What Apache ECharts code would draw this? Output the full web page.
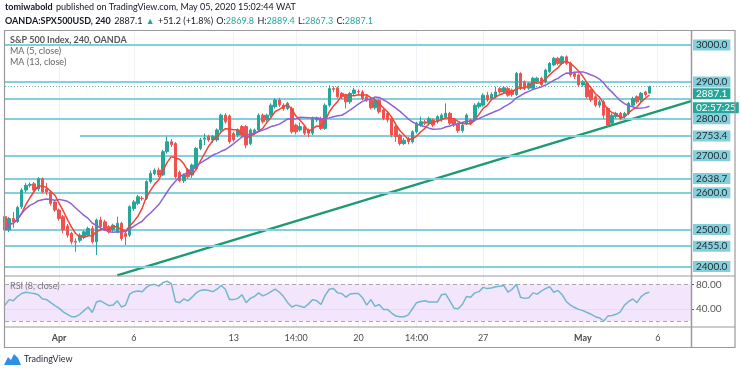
<!DOCTYPE html>
<html><head><meta charset="utf-8">
<script src="https://cdn.jsdelivr.net/npm/echarts@6/dist/echarts.min.js"></script>
<style>html,body{margin:0;padding:0;background:#fff}#c{width:740px;height:373px}</style>
</head><body><div id="c"></div>
<script>
// [open, close, low, high] per 4h bar
const candles = [
[2535,2499,2488,2541],[2499,2530,2493,2534],[2530,2522,2505,2548],[2522,2560,2518,2565],[2562,2607,2556,2612],
[2607,2620,2600,2626],[2620,2622,2614,2628],[2624,2607,2601,2629],[2610,2638,2604,2642],[2638,2602,2598,2641],
[2610,2602,2594,2626],[2602,2571,2565,2606],[2575,2553,2548,2580],[2553,2530,2524,2557],[2535,2499,2490,2540],
[2510,2485,2478,2515],[2490,2467,2460,2494],[2468,2466,2440,2476],[2471,2485,2465,2490],[2480,2494,2474,2498],
[2485,2503,2480,2508],[2503,2467,2462,2510],[2467,2526,2431,2530],[2526,2508,2500,2535],[2521,2503,2497,2527],
[2508,2494,2489,2512],[2499,2512,2494,2516],[2494,2517,2490,2535],[2517,2476,2470,2521],[2490,2481,2458,2494],
[2485,2562,2480,2566],[2557,2575,2551,2580],[2571,2589,2566,2594],[2585,2584,2578,2591],[2584,2630,2580,2634],
[2630,2652,2625,2660],[2652,2661,2647,2666],[2661,2648,2642,2668],[2648,2711,2645,2716],[2711,2738,2706,2752],
[2738,2730,2724,2745],[2733,2643,2638,2737],[2655,2632,2628,2660],[2632,2648,2626,2652],[2662,2643,2638,2667],
[2648,2675,2640,2679],[2666,2720,2660,2724],[2720,2743,2715,2748],[2745,2748,2729,2760],[2752,2743,2738,2757],
[2743,2752,2735,2756],[2743,2770,2738,2774],[2770,2810,2765,2814],[2810,2792,2787,2815],[2808,2738,2733,2812],
[2760,2743,2738,2765],[2756,2770,2750,2774],[2779,2756,2751,2783],[2779,2729,2720,2783],[2733,2770,2729,2774],
[2761,2770,2756,2774],[2770,2810,2765,2815],[2810,2792,2787,2814],[2797,2810,2792,2814],[2810,2837,2805,2842],
[2833,2851,2828,2856],[2851,2838,2832,2857],[2837,2828,2822,2842],[2828,2842,2824,2846],[2828,2765,2760,2833],
[2783,2765,2758,2787],[2770,2779,2765,2790],[2779,2761,2756,2783],[2770,2761,2750,2774],[2761,2801,2756,2806],
[2797,2801,2792,2806],[2801,2774,2770,2806],[2774,2837,2770,2842],[2837,2882,2832,2891],[2882,2880,2872,2888],
[2884,2860,2855,2888],[2869,2860,2853,2873],[2864,2846,2828,2868],[2846,2869,2841,2873],[2869,2878,2864,2884],
[2874,2873,2866,2880],[2873,2855,2850,2878],[2860,2851,2846,2865],[2851,2830,2826,2856],[2830,2850,2825,2855],
[2850,2819,2814,2853],[2824,2801,2796,2828],[2815,2797,2790,2820],[2801,2756,2750,2806],[2779,2752,2738,2783],
[2756,2733,2728,2760],[2733,2742,2729,2748],[2747,2738,2731,2751],[2738,2765,2733,2769],[2765,2788,2760,2792],
[2783,2792,2779,2806],[2792,2788,2783,2797],[2788,2801,2783,2806],[2797,2783,2778,2801],[2792,2806,2787,2810],
[2797,2810,2792,2815],[2806,2815,2801,2842],[2815,2788,2783,2819],[2797,2783,2778,2801],[2785,2768,2762,2790],
[2768,2783,2763,2788],[2788,2810,2783,2815],[2797,2788,2783,2801],[2797,2837,2792,2842],[2833,2842,2828,2847],
[2837,2864,2833,2869],[2864,2851,2846,2873],[2855,2866,2850,2872],[2860,2873,2855,2887],[2882,2873,2868,2886],
[2873,2884,2869,2889],[2882,2864,2860,2887],[2878,2866,2860,2882],[2866,2923,2862,2927],[2923,2883,2878,2926],
[2900,2883,2878,2904],[2883,2896,2878,2900],[2883,2910,2880,2914],[2901,2910,2896,2914],[2910,2893,2889,2914],
[2900,2932,2896,2936],[2928,2950,2924,2954],[2946,2964,2942,2968],[2964,2950,2945,2968],[2950,2968,2946,2971],
[2968,2950,2946,2972],[2950,2919,2914,2955],[2923,2915,2908,2928],[2919,2892,2887,2923],[2892,2900,2887,2905],
[2896,2860,2855,2900],[2878,2851,2846,2882],[2860,2837,2832,2864],[2837,2846,2830,2851],[2846,2810,2800,2851],
[2828,2783,2778,2832],[2788,2810,2783,2815],[2806,2815,2801,2819],[2815,2801,2796,2819],[2806,2815,2801,2819],
[2815,2842,2810,2846],[2837,2855,2832,2860],[2860,2846,2841,2864],[2851,2869,2846,2873],[2873,2866,2860,2876],
[2869.8,2887.1,2867.3,2889.4]
];
const rsi8 = [
46,55,53,60,65,67,66,65,63,56, 55,50,45,41,35,31,27,27,31,37,
43,34,51,53,49,45,46,53,43,46, 64,68,69,68,75,79,80,77,83,85,
81,52,50,56,53,59,66,70,71,70, 68,72,78,72,55,55,57,63,50,57,
60,66,61,64,68,72,67,60,50,43, 46,44,42,48,55,53,47,62,72,73,
66,65,59,64,65,65,58,46,55,44, 47,39,39,33,28,27,27,30,40,50,
52,53,51,51,51,63,64,53,41,40, 47,60,59,66,68,75,73,74,76,77,
78,67,72,80,59,57,58,66,64,69, 73,76,67,70,63,52,46,42,39,37,
34,31,27,25,20,28,29,31,35,46, 52,56,50,60,65,67
];
const slotCount = 166;
const priceLevels = [3000, 2900, 2800, 2700, 2638.7, 2600, 2500, 2455, 2400];
const partialLevel = {fromIdx: 18, value: 2753.4};
const hiddenLevel = 2855;
const lastPrice = 2887.1;
const countdown = '02:57:25';
const trendPts = [[27, 2376], [165, 2848]];
const timeLabels = ['Apr', '6', '13', '14:00', '20', '14:00', '27', 'May', '6'];
const timeLabelIdx = [13, 31, 55, 70, 85, 99, 115, 139, 157];
const rsiTicks = [40, 80];
const rsiBand = [20, 80];

const FONT = 'Lato';
const cats = Array.from({length: slotCount}, (_, i) => String(i));
const closes = candles.map(c => c[1]);
function sma(n) {
  return closes.map((_, i) => {
    const s = Math.max(0, i - n + 1);
    const w = closes.slice(s, i + 1);
    return +(w.reduce((a, b) => a + b, 0) / w.length).toFixed(2);
  });
}
const ma5 = sma(5), ma13 = sma(13);
const labelSet = new Set(timeLabelIdx);
const boldLabels = new Set(['Apr', 'May']);

const levelColor = '#84cfdc';
const boxLabel = (txt, bg, fg, dy) => ({
  show: true, position: 'end', distance: 2, offset: [0, dy || 0], formatter: txt,
  backgroundColor: bg, color: fg, fontSize: 10, fontFamily: FONT, padding: [1, 3, 0, 3], opacity: 1
});
const levelLines = priceLevels.map(v => ({yAxis: v, label: boxLabel(v.toFixed(1), levelColor, '#1e2a30')}));
const last = candles[candles.length - 1];
const f1 = v => v.toFixed(1);

const chart = echarts.init(document.getElementById('c'), null, {renderer: 'canvas'});
chart.setOption({
  animation: false,
  textStyle: {fontFamily: FONT},
  grid: [
    {left: 5, right: 49, top: 30, height: 246},
    {left: 5, right: 49, top: 276, height: 51}
  ],
  xAxis: [0, 1].map(g => ({
    type: 'category', gridIndex: g, data: cats, boundaryGap: false,
    axisLine: {show: false}, axisTick: {show: false},
    axisLabel: g === 1 ? {
      show: true, interval: (i) => labelSet.has(i), margin: 7,
      formatter: (v) => {
        const t = timeLabels[timeLabelIdx.indexOf(+v)];
        return boldLabels.has(t) ? '{b|' + t + '}' : t;
      },
      color: '#4a4a4a', fontSize: 9, fontFamily: FONT,
      rich: {b: {fontWeight: 'bold', color: '#4a4a4a', fontSize: 9, fontFamily: FONT}}
    } : {show: false},
    splitLine: {show: true, interval: (i) => labelSet.has(i), lineStyle: {color: '#ecf2f7', width: 1}}
  })),
  yAxis: [
    {type: 'value', gridIndex: 0, position: 'right', min: 2374.3, max: 3040.65,
     axisLine: {show: false}, axisTick: {show: false}, axisLabel: {show: false}, splitLine: {show: false}},
    {type: 'value', gridIndex: 1, position: 'right', min: 10.2, max: 93.6,
     axisLine: {show: false},
     axisTick: {show: true, customValues: rsiTicks, length: 3, lineStyle: {color: '#555'}},
     axisLabel: {show: true, customValues: rsiTicks, formatter: v => Number(v).toFixed(2), color: '#555', fontSize: 10, fontFamily: FONT, margin: 5},
     splitLine: {show: false}}
  ],
  series: [
    {
      type: 'candlestick', xAxisIndex: 0, yAxisIndex: 0, data: candles.map(c => c.slice()), barWidth: 3, z: 5,
      itemStyle: {color: '#26a69a', color0: '#ef5350', borderColor: '#26a69a', borderColor0: '#ef5350', borderWidth: 1},
      markLine: {
        silent: true, symbol: 'none', animation: false,
        lineStyle: {color: levelColor, width: 2, type: 'solid'},
        data: levelLines.concat([
          [{coord: [partialLevel.fromIdx, partialLevel.value]},
           {coord: [slotCount - 1, partialLevel.value], label: boxLabel(f1(partialLevel.value), levelColor, '#1e2a30')}],
          {yAxis: hiddenLevel, label: {show: false}},
          {yAxis: lastPrice, lineStyle: {color: '#5fb6a6', width: 1, type: [1, 2]},
           label: boxLabel(f1(lastPrice), '#26a69a', '#fff', 7)},
          {yAxis: lastPrice - 0.01, lineStyle: {color: 'rgba(0,0,0,0)', width: 0},
           label: boxLabel(countdown, '#26a69a', '#fff', 21)}
        ])
      }
    },
    {type: 'line', xAxisIndex: 0, yAxisIndex: 0, data: ma5, symbol: 'none', z: 6,
     lineStyle: {color: '#f44336', width: 1.5}},
    {type: 'line', xAxisIndex: 0, yAxisIndex: 0, data: ma13, symbol: 'none', z: 6,
     lineStyle: {color: '#8c62d4', width: 1.5}},
    {type: 'line', xAxisIndex: 0, yAxisIndex: 0, data: trendPts, symbol: 'none', z: 4,
     lineStyle: {color: '#1b9a74', width: 2.5}},
    {type: 'line', xAxisIndex: 1, yAxisIndex: 1, data: rsi8, symbol: 'none', z: 5,
     lineStyle: {color: '#72b7cc', width: 1.5},
     markArea: {silent: true, itemStyle: {color: '#f3e6fc'}, data: [[{yAxis: rsiBand[0]}, {yAxis: rsiBand[1]}]]},
     markLine: {silent: true, symbol: 'none', label: {show: false},
       data: [
         {yAxis: rsiBand[1], lineStyle: {color: '#a9a9a9', type: [4, 3], width: 1}},
         {yAxis: rsiBand[0], lineStyle: {color: '#a9a9a9', type: [4, 3], width: 1}},
         {yAxis: rsiTicks[0], lineStyle: {color: '#e6dcef', type: 'solid', width: 1}}
       ]}}
  ],
  graphic: [
    {type: 'rect', shape: {x: 4.5, y: 30.5, width: 730.5, height: 317}, style: {fill: 'none', stroke: '#9a9a9a', lineWidth: 1.2}, z: 100},
    {type: 'line', shape: {x1: 691.5, y1: 30.5, x2: 691.5, y2: 347.5}, style: {stroke: '#9a9a9a', lineWidth: 1.5}, z: 100},
    {type: 'line', shape: {x1: 4.5, y1: 276, x2: 735, y2: 276}, style: {stroke: '#9a9a9a', lineWidth: 1.2}, z: 100},
    {type: 'line', shape: {x1: 4.5, y1: 327, x2: 735, y2: 327}, style: {stroke: '#9a9a9a', lineWidth: 1.2}, z: 100},
    {type: 'text', left: 5, top: 1, z: 100, style: {
      text: '{b|tomiwabold} {n|published on TradingView.com, May 05, 2020 15:02:44 WAT}',
      rich: {b: {fontWeight: 'bold', fontSize: 9, fill: '#131722', fontFamily: FONT},
             n: {fontSize: 9, fill: '#131722', fontFamily: FONT}}}},
    {type: 'text', left: 5, top: 15, z: 100, style: {
      text: '{b|OANDA:SPX500USD, 240} {n|' + f1(last[1]) + '} {g|▲} {n|+51.2 (+1.8%)} {n|O:}{g|' + f1(last[0]) +
            '} {n|H:}{g|' + f1(last[3]) + '} {n|L:}{g|' + f1(last[2]) + '} {n|C:}{g|' + f1(last[1]) + '}',
      rich: {b: {fontWeight: 'bold', fontSize: 9, fill: '#131722', fontFamily: FONT},
             n: {fontSize: 9, fill: '#131722', fontFamily: FONT},
             g: {fontSize: 9, fill: '#26a69a', fontFamily: FONT}}}},
    {type: 'text', left: 10, top: 36, z: 100, style: {text: 'S&P 500 Index, 240, OANDA', fontSize: 9, fontWeight: 'bold', fill: '#555', fontFamily: FONT}},
    {type: 'text', left: 10, top: 47, z: 100, style: {text: 'MA (5, close)', fontSize: 9, fill: '#666', fontFamily: FONT}},
    {type: 'text', left: 10, top: 58, z: 100, style: {text: 'MA (13, close)', fontSize: 9, fill: '#666', fontFamily: FONT}},
    {type: 'text', left: 10, top: 282, z: 100, style: {text: 'RSI (8, close)', fontSize: 9, fill: '#777', fontFamily: FONT}},
    {type: 'polygon', z: 100, shape: {points: [[4,365],[8,357],[11,360],[14,354],[18,358],[21,365]]}, style: {fill: '#2e8fe8'}},
    {type: 'text', left: 24, top: 355, z: 100, style: {text: 'TradingView', fontSize: 9, fill: '#2a2e39', fontFamily: FONT}}
  ]
});
</script></body></html>
